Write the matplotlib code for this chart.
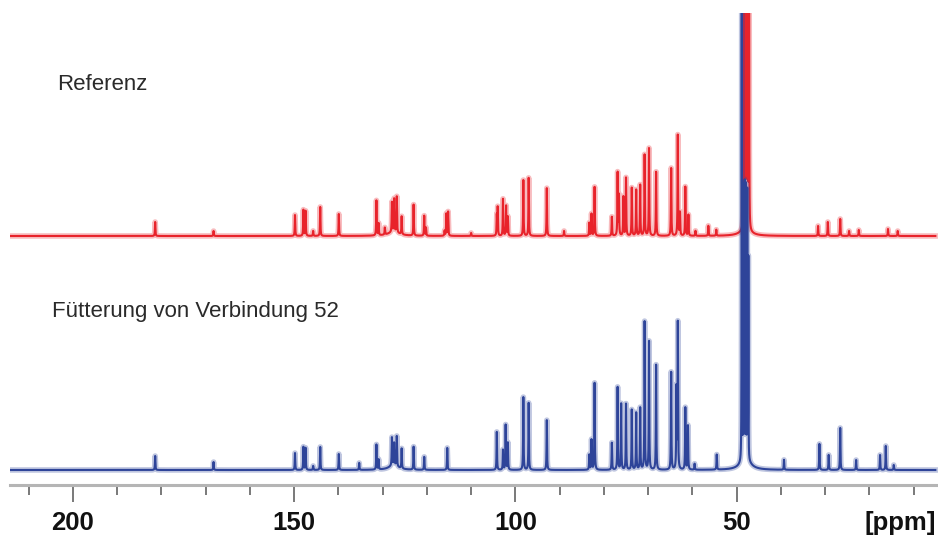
import numpy as np
import matplotlib
matplotlib.use("Agg")
import matplotlib.pyplot as plt
from matplotlib.ticker import MultipleLocator

## 13C spectra, peak lists: position [ppm], height above baseline
ref_ppm = [181.4, 168.2, 149.8, 147.9, 147.4, 145.7, 144.1, 139.9, 131.4, 130.9,
           129.5, 127.9, 127.4, 126.8, 125.7, 123.0, 120.6, 120.2, 116.0, 115.6,
           115.2, 110.0, 104.2, 104.0, 102.8, 102.1, 101.7, 98.2, 97.0, 92.9,
           89.0, 83.3, 82.8, 82.1, 78.2, 76.9, 76.6, 75.6, 75.0, 73.7,
           72.7, 71.8, 70.8, 69.8, 68.2, 64.8, 63.3, 62.8, 61.6, 60.9,
           59.3, 56.4, 54.6, 31.6, 29.4, 26.6, 24.6, 22.4, 15.8, 13.6]
ref_height = [14, 5, 21, 26, 25, 5, 29, 22, 35, 12,
              7, 30, 33, 36, 18, 31, 20, 8, 5, 22,
              24, 3, 20, 28, 37, 30, 19, 56, 58, 48,
              5, 13, 22, 49, 19, 63, 40, 39, 58, 48,
              46, 51, 81, 88, 64, 68, 101, 23, 49, 21,
              5, 10, 6, 10, 14, 17, 5, 6, 7, 5]

feed_ppm = [181.4, 168.2, 149.8, 147.9, 147.4, 145.7, 144.1, 139.9, 135.3, 131.4,
            130.9, 127.9, 127.4, 126.8, 125.7, 123.0, 120.6, 115.4, 104.2, 102.8,
            102.2, 101.7, 98.2, 97.0, 92.9, 83.3, 82.8, 82.1, 78.2, 76.9,
            76.1, 75.0, 73.7, 72.7, 71.8, 70.8, 69.8, 68.2, 64.8, 63.6,
            63.3, 61.6, 61.0, 59.5, 54.5, 39.3, 31.3, 29.2, 26.6, 23.0,
            17.6, 16.3, 14.5]
feed_height = [14, 8, 17, 23, 22, 4, 23, 16, 7, 25,
               10, 28, 22, 30, 20, 23, 13, 22, 38, 20,
               45, 27, 73, 67, 50, 15, 30, 87, 27, 83,
               66, 66, 60, 57, 62, 148, 129, 105, 98, 80,
               146, 62, 44, 6, 15, 10, 26, 15, 42, 10,
               15, 24, 5]

# solvent (CD3OD) multiplet lines
ref_solv_ppm = [48.4, 48.1, 47.8, 47.5, 47.2]
ref_solv_height = [600, 600, 600, 600, 600]
feed_solv_ppm = [48.85, 48.5, 48.2, 47.9, 47.6, 47.35]
feed_solv_height = [600, 275, 275, 270, 265, 200]

# broad humps under the aromatic region and the solvent
ref_hump_ppm = [127.5, 48.0]
ref_hump_height = [4, 5]
feed_hump_ppm = [127.5, 48.0]
feed_hump_height = [5, 12]

ref_label = "Referenz"
feed_label = "Fütterung von Verbindung 52"
ref_offset = 234

major_ticks = [200, 150, 100, 50]


def spectrum(ppm, centers, heights, hw):
    y = np.zeros_like(ppm)
    for c, h in zip(centers, heights):
        y += h / (1 + ((ppm - c) / hw) ** 2)
    return y


ppm = np.linspace(214.2, 5.1, 21000)
y_ref = (spectrum(ppm, ref_ppm, ref_height, 0.06)
         + spectrum(ppm, ref_solv_ppm, ref_solv_height, 0.03)
         + spectrum(ppm, ref_hump_ppm, ref_hump_height, 1.5))
y_feed = (spectrum(ppm, feed_ppm, feed_height, 0.06)
          + spectrum(ppm, feed_solv_ppm, feed_solv_height, 0.03)
          + spectrum(ppm, feed_hump_ppm, feed_hump_height, 1.2))

fig = plt.figure(figsize=(9.38, 5.36), dpi=100)
ax = fig.add_axes([10 / 938, 51 / 536, 928 / 938, 472 / 536])

red, blue = '#e8232b', '#2e4499'
for y, c, off in ((y_ref, red, ref_offset), (y_feed, blue, 0)):
    ax.plot(ppm, y + off, color=c, lw=4, alpha=0.3)
    ax.plot(ppm, y + off, color=c, lw=1.5)

ax.set_xlim(214.2, 4.5)
ax.set_ylim(-15, 457)

for s in ('left', 'right', 'top'):
    ax.spines[s].set_visible(False)
ax.spines['bottom'].set_color('#b5b5b5')
ax.spines['bottom'].set_linewidth(2.2)
ax.set_yticks([])

ax.set_xticks(major_ticks)
ax.xaxis.set_minor_locator(MultipleLocator(10))
ax.tick_params(axis='x', which='major', length=12.5, width=1.1, color='#555555', pad=6)
ax.tick_params(axis='x', which='minor', length=7.5, width=1.1, color='#555555')
for lab in ax.get_xticklabels():
    lab.set_fontfamily('Liberation Sans')
    lab.set_fontweight('bold')
    lab.set_fontsize(18.5)
    lab.set_color('#111111')

txt = dict(fontfamily='Liberation Sans', fontsize=16, color='#2a2a2a', va='center', ha='left')
fig.text(57 / 938, 1 - 85 / 536, ref_label, **txt)
fig.text(52 / 938, 1 - 311 / 536, feed_label, **txt)
fig.text(900 / 938, 1 - 523 / 536, "[ppm]", fontfamily='Liberation Sans', fontsize=18.5,
         fontweight='bold', color='#111111', ha='center', va='center')

fig.savefig("out.png", dpi=100)
